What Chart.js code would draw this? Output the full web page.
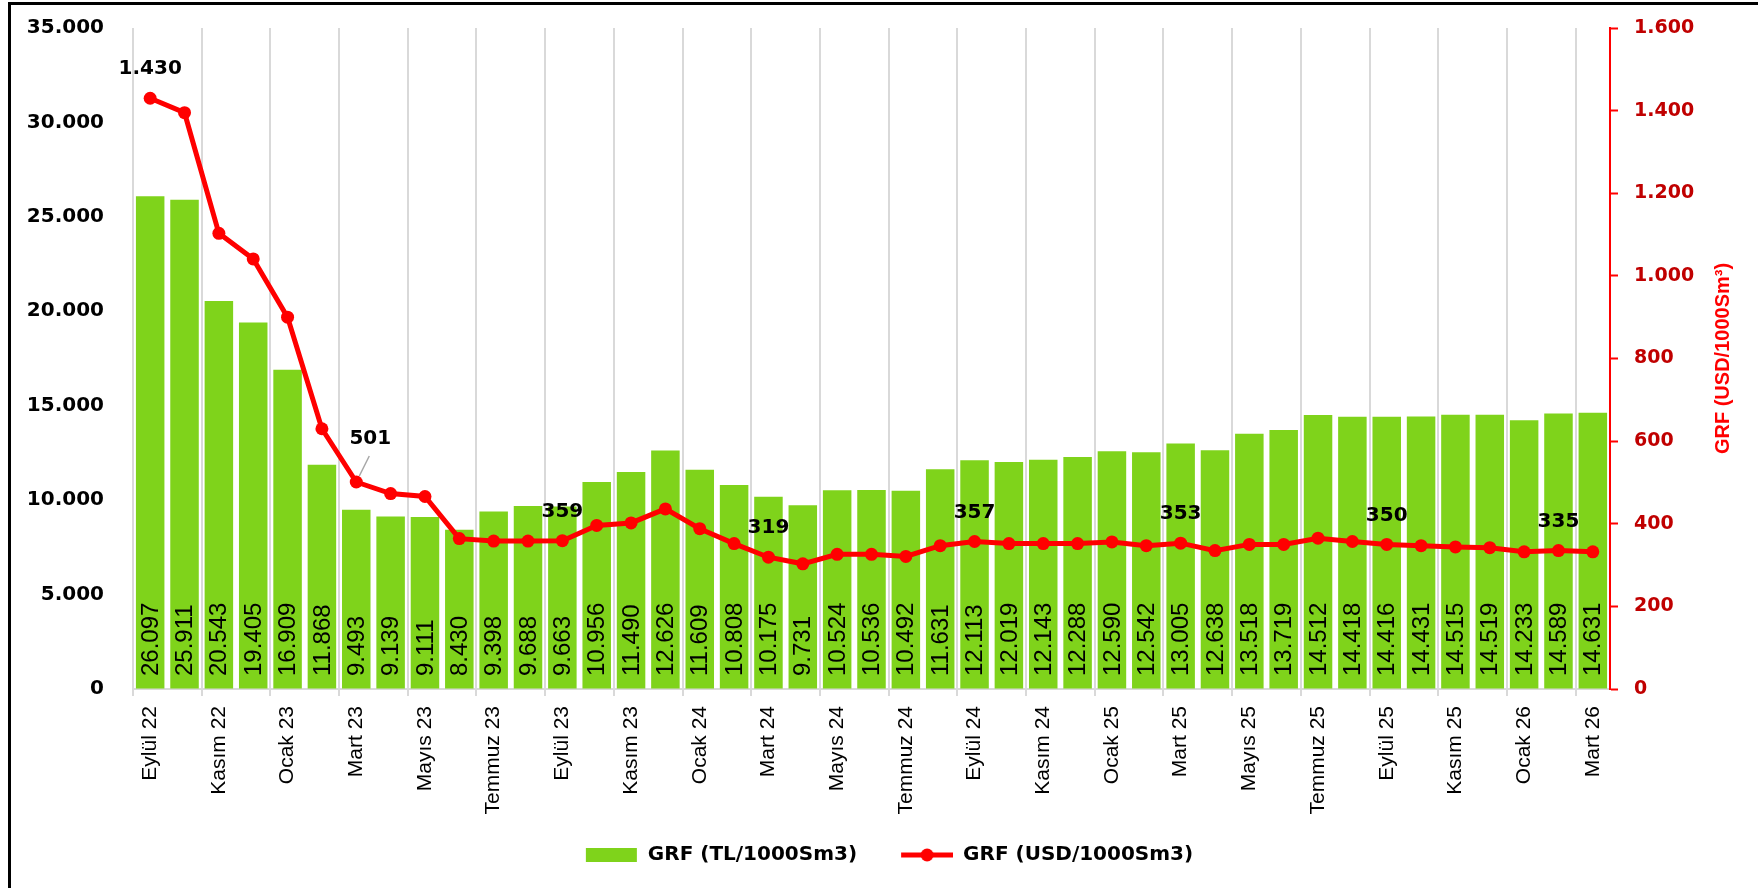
<!DOCTYPE html>
<html lang="tr">
<head>
<meta charset="utf-8">
<title>GRF</title>
<script src="https://cdn.jsdelivr.net/npm/chart.js@4.4.1/dist/chart.umd.min.js"></script>
<style>
  html, body { margin: 0; padding: 0; background: #fff; overflow: hidden; }
  #wrap { position: relative; width: 1758px; height: 888px; }
  #frame { position: absolute; left: 8px; top: 2px; width: 1800px; height: 1000px;
           border-left: 3px solid #000; border-top: 3px solid #000; pointer-events: none; }
</style>
</head>
<body>
<div id="wrap">
  <canvas id="grfChart"></canvas>
  <div id="frame"></div>
</div>
<script>
const months = [
    "Eylül 22", "Ekim 22", "Kasım 22", "Aralık 22",
    "Ocak 23", "Şubat 23", "Mart 23", "Nisan 23", "Mayıs 23", "Haziran 23",
    "Temmuz 23", "Ağustos 23", "Eylül 23", "Ekim 23", "Kasım 23", "Aralık 23",
    "Ocak 24", "Şubat 24", "Mart 24", "Nisan 24", "Mayıs 24", "Haziran 24",
    "Temmuz 24", "Ağustos 24", "Eylül 24", "Ekim 24", "Kasım 24", "Aralık 24",
    "Ocak 25", "Şubat 25", "Mart 25", "Nisan 25", "Mayıs 25", "Haziran 25",
    "Temmuz 25", "Ağustos 25", "Eylül 25", "Ekim 25", "Kasım 25", "Aralık 25",
    "Ocak 26", "Şubat 26", "Mart 26"
];
const tlValues = [
    26097, 25911, 20543, 19405, 16909, 11868, 9493, 9139, 9111, 8430,
    9398, 9688, 9663, 10956, 11490, 12626, 11609, 10808, 10175, 9731,
    10524, 10536, 10492, 11631, 12113, 12019, 12143, 12288, 12590, 12542,
    13005, 12638, 13518, 13719, 14512, 14418, 14416, 14431, 14515, 14519,
    14233, 14589, 14631
];
const usdValues = [
    1430, 1395, 1103, 1041, 900, 630, 501, 473, 466, 364,
    358, 358, 359, 396, 402, 436, 388, 352, 319, 303,
    326, 326, 321, 347, 357, 352, 352, 352, 356, 347,
    353, 335, 350, 350, 365, 357, 350, 347, 344, 342,
    332, 335, 332
];
// points of the USD line that carry a value label
const usdLabelIdx = [0, 6, 12, 18, 24, 30, 36, 41];
const tlName = "GRF (TL/1000Sm3)";
const usdName = "GRF (USD/1000Sm3)";
const usdAxisTitle = "GRF (USD/1000Sm³)";

const green = "#7fd31b";
const red = "#ff0000";
const gridGrey = "#d9d9d9";

// 12345 -> "12.345"
function fmt(v) {
    return String(Math.round(v)).replace(/\B(?=(\d{3})+(?!\d))/g, ".");
}

// legend icons, with a blank strip on the left so the two entries sit further apart
function legendIcon(kind) {
    var c = document.createElement("canvas");
    c.width = 69;
    c.height = 16;
    var g = c.getContext("2d");
    if (kind == "bar") {
        g.fillStyle = green;
        g.fillRect(17, 1, 51, 14);
    } else {
        g.strokeStyle = red;
        g.lineWidth = 5;
        g.beginPath();
        g.moveTo(17, 8);
        g.lineTo(69, 8);
        g.stroke();
        g.fillStyle = red;
        g.beginPath();
        g.arc(43, 8, 6.5, 0, Math.PI * 2);
        g.fill();
    }
    return c;
}
const legendIcons = [legendIcon("bar"), legendIcon("line")];

// only every second category gets a grid line / tick mark
function evenGrid(ctx) {
    return ctx.index % 2 == 0 ? gridGrey : "rgba(0,0,0,0)";
}

const labelPlugin = {
    id: "grfLabels",
    afterDatasetsDraw(chart) {
        var ctx = chart.ctx;
        var barMeta = chart.getDatasetMeta(0);
        var lineMeta = chart.getDatasetMeta(1);
        var base = chart.scales.y.getPixelForValue(0);

        ctx.save();
        ctx.fillStyle = "#000";
        ctx.font = "24px 'Liberation Sans'";
        ctx.textAlign = "left";
        ctx.textBaseline = "middle";
        barMeta.data.forEach(function(bar, i) {
            ctx.save();
            ctx.translate(bar.x + 1, base - 13);
            ctx.rotate(-Math.PI / 2);
            ctx.fillText(fmt(tlValues[i]), 0, 0);
            ctx.restore();
        });

        ctx.font = "bold 20px 'DejaVu Sans'";
        ctx.textAlign = "center";
        usdLabelIdx.forEach(function(i) {
            var pt = lineMeta.data[i];
            var lx = pt.x, ly = pt.y - 29;
            if (i == 6) {
                // this one sits to the side with a leader line
                lx = pt.x + 14;
                ly = pt.y - 43;
                ctx.strokeStyle = "#a6a6a6";
                ctx.lineWidth = 1.5;
                ctx.beginPath();
                ctx.moveTo(pt.x + 3, pt.y - 6);
                ctx.lineTo(pt.x + 13, pt.y - 26);
                ctx.stroke();
            }
            ctx.fillText(fmt(usdValues[i]), lx, ly);
        });
        ctx.restore();
    },
    afterDraw(chart) {
        var ctx = chart.ctx;
        var area = chart.chartArea;
        ctx.save();
        ctx.translate(chart.scales.y1.right - 35, (area.top + area.bottom) / 2);
        ctx.rotate(-Math.PI / 2);
        ctx.fillStyle = red;
        ctx.font = "bold 20px 'Liberation Sans'";
        ctx.textAlign = "center";
        ctx.textBaseline = "middle";
        ctx.fillText(usdAxisTitle, 0, 0);
        ctx.restore();
    }
};

window.onload = function() {
    var context = document.getElementById("grfChart").getContext("2d");
    new Chart(context, {
        type: "bar",
        data: {
            labels: months,
            datasets: [{
                label: tlName,
                data: tlValues,
                backgroundColor: green,
                borderWidth: 0,
                categoryPercentage: 1,
                barPercentage: 0.83,
                yAxisID: "y",
                order: 2
            }, {
                type: "line",
                label: usdName,
                data: usdValues,
                borderColor: red,
                backgroundColor: red,
                borderWidth: 5,
                pointRadius: 6.5,
                pointBackgroundColor: red,
                pointBorderWidth: 0,
                tension: 0,
                yAxisID: "y1",
                order: 1
            }]
        },
        options: {
            responsive: true,
            maintainAspectRatio: false,
            animation: false,
            layout: { padding: { left: 4, right: 0, top: 28, bottom: 13 } },
            plugins: {
                tooltip: { enabled: false },
                legend: {
                    position: "bottom",
                    labels: {
                        color: "#000",
                        font: { family: "'DejaVu Sans'", size: 20, weight: "bold" },
                        usePointStyle: true,
                        pointStyleWidth: 69,
                        boxHeight: 14,
                        padding: 27,
                        sort: function(a, b) { return a.datasetIndex - b.datasetIndex; },
                        generateLabels: function(chart) {
                            var items = Chart.defaults.plugins.legend.labels.generateLabels(chart);
                            items.forEach(function(item) {
                                item.pointStyle = legendIcons[item.datasetIndex];
                            });
                            return items;
                        }
                    }
                }
            },
            scales: {
                x: {
                    offset: true,
                    grid: {
                        offset: true,
                        color: evenGrid,
                        tickColor: evenGrid,
                        lineWidth: 2,
                        tickLength: 7
                    },
                    border: { display: true, color: gridGrey, width: 2 },
                    ticks: {
                        autoSkip: false,
                        maxRotation: 90,
                        minRotation: 90,
                        padding: 10,
                        color: "#000",
                        font: { family: "'Liberation Sans'", size: 21 },
                        callback: function(v, i) { return i % 2 == 0 ? months[i] : ""; }
                    },
                    afterFit: function(s) { s.height = 129; }
                },
                y: {
                    position: "left",
                    min: 0,
                    max: 35000,
                    grid: { display: true, drawOnChartArea: false, drawTicks: true,
                            tickLength: 29, tickColor: "rgba(0,0,0,0)" },
                    border: { display: false },
                    ticks: {
                        stepSize: 5000,
                        padding: 0,
                        color: "#000",
                        font: { family: "'DejaVu Sans'", size: 20, weight: "bold" },
                        callback: function(v) { return fmt(v); }
                    },
                    afterFit: function(s) { s.width = 129; }
                },
                y1: {
                    position: "right",
                    min: 0,
                    max: 1600,
                    grid: { drawOnChartArea: false, tickLength: 8, tickColor: red, tickWidth: 2 },
                    border: { color: red, width: 2 },
                    ticks: {
                        stepSize: 200,
                        padding: 16,
                        color: "#c00000",
                        font: { family: "'DejaVu Sans'", size: 19, weight: "bold" },
                        callback: function(v) { return fmt(v); }
                    },
                    afterFit: function(s) { s.width = 148; }
                }
            }
        },
        plugins: [labelPlugin]
    });
};
</script>
</body>
</html>
